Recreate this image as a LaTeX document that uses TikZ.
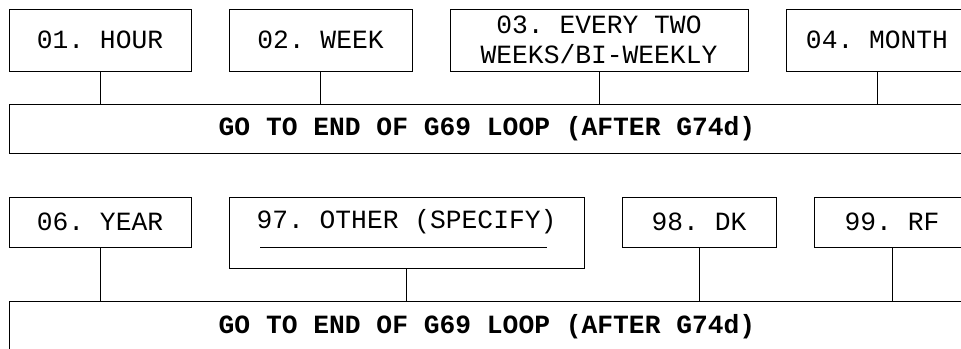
\documentclass[tikz,border=0pt]{standalone}
\usepackage{fontspec}
\setmonofont{Liberation Mono}
\begin{document}
\frenchspacing
\begin{tikzpicture}[x=1pt,y=-1pt,
  every node/.style={inner sep=0pt},
  box/.style={draw, line width=1pt, font=\fontsize{26.3}{30}\selectfont\ttfamily, align=center},
  bar/.style={draw, line width=1pt, font=\fontsize{26.3}{30}\selectfont\ttfamily\bfseries},
  txt/.style={font=\fontsize{26.3}{30}\selectfont\ttfamily},
  conn/.style={line width=1pt}]
\useasboundingbox (0,0) rectangle (961,348);
\clip (0,0) rectangle (961,348);
% top row
\node[box, minimum width=182, minimum height=62] (h1) at (100,40) {01. HOUR};
\node[box, minimum width=183, minimum height=62] (h2) at (320.5,40) {02. WEEK};
\node[box, minimum width=298, minimum height=62] (h3) at (599,40) {03. EVERY TWO\\WEEKS/BI-WEEKLY};
\node[box, minimum width=182, minimum height=62] (h4) at (877,40) {04. MONTH};
\node[bar, minimum width=956, minimum height=49] (b1) at (487,128.5) {GO TO END OF G69 LOOP (AFTER G74d)};
\foreach \n in {h1,h2,h3,h4} \draw[conn] (\n.south) -- (\n.south |- b1.north);
% bottom row
\node[box, minimum width=182, minimum height=50] (y1) at (100,222) {06. YEAR};
\node[box, minimum width=355, minimum height=71] (o97) at (406.5,232.5) {};
\node[txt] (o97t) at (406.5,222) {97. OTHER (SPECIFY)};
\coordinate (s1) at (260,247);
\coordinate (s2) at (547,247);
\draw[conn] (s1) -- (s2);
\node[box, minimum width=154, minimum height=50] (dk) at (699,222) {98. DK};
\node[box, minimum width=156, minimum height=50] (rf) at (892,222) {99. RF};
\node[bar, minimum width=956, minimum height=52] (b2) at (487,327) {GO TO END OF G69 LOOP (AFTER G74d)};
\draw[conn] (y1.south) -- (y1.south |- b2.north);
\draw[conn] (o97.south) -- (o97.south |- b2.north);
\draw[conn] (dk.south) -- (dk.south |- b2.north);
\draw[conn] (rf.south) -- (rf.south |- b2.north);
\end{tikzpicture}
\end{document}
